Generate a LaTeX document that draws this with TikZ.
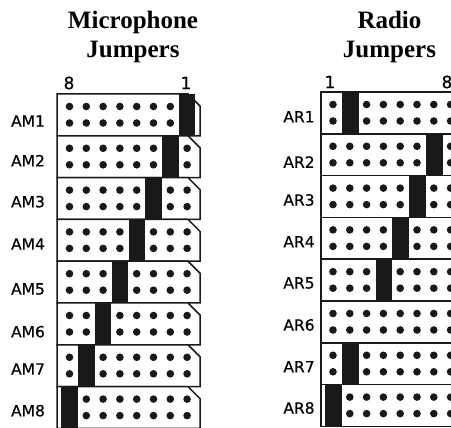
\documentclass[tikz,border=0pt]{standalone}
\usepackage{fontspec}
\setmainfont{Liberation Serif}
\newfontface\labelfont{DejaVu Sans}[FakeBold=0.5]
\tikzset{
  pin/.style = {
      circle,
      fill=black!90,
      minimum size=7.6pt,
      inner sep=0pt, outer sep=0pt,
    },
  jumper/.style = {
      fill=black!90,
      draw=none,
    },
  board/.style = {
      draw=black!90,
      line width=1.5pt,
      fill=white,
    },
  title/.style = {
      align=center,
      font=\fontsize{25}{29}\selectfont\bfseries,
      inner sep=0pt,
    },
  rowlabel/.style = {
      font=\fontsize{15.5}{16}\selectfont\labelfont,
      inner sep=0pt,
    },
  pinlabel/.style = {
      font=\fontsize{17}{18}\selectfont\labelfont,
      inner sep=0pt,
    },
}

\begin{document}
\begin{tikzpicture}[x=1pt, y=-1pt]
    \clip (0,0) rectangle (451,428);

    \node[title] (mictitle) at (133,37) {Microphone\\Jumpers};
    \node[title] (radiotitle) at (389.5,37) {Radio\\Jumpers};

    \node[pinlabel] (miceight) at (69,83) {8};
    \node[pinlabel] (micone) at (186,83) {1};
    \node[pinlabel] (radioone) at (330,82) {1};
    \node[pinlabel] (radioeight) at (447,82) {8};

    % microphone rows: number / jumper column / label height
    \foreach \r/\j/\ly in {1/7/121, 2/6/160.7, 3/5/201.7, 4/4/244, 5/3/289, 6/2/331.7, 7/1/369, 8/0/410.7} {
      \pgfmathsetmacro{\top}{94+41.8*(\r-1)}
      \node[rowlabel] (AM\r) at (28,\ly) {AM\r};
      \draw[board] (57,\top) -- (188,\top) -- (200,\top+12) -- (200,\top+41.8) -- (57,\top+41.8) -- cycle;
      \fill[jumper] (61.3+16.8*\j,\top) rectangle ++(16.5,41.8);
      \foreach \c in {0,...,7} {
        \ifnum\c=\j\else
          \node[pin] (mtop\r-\c) at (69.5+16.8*\c,\top+12.5) {};
          \node[pin] (mbot\r-\c) at (69.5+16.8*\c,\top+29) {};
        \fi
      }
    }

    % radio rows: -1 is a row with no jumper
    \foreach \r/\j/\ly in {1/1/116.7, 2/6/162, 3/5/200, 4/4/241.7, 5/3/283, 6/-1/325, 7/1/366.7, 8/0/408} {
      \pgfmathsetmacro{\top}{92+41.8*(\r-1)}
      \node[rowlabel] (AR\r) at (299,\ly) {AR\r};
      \draw[board] (321,\top) -- (470,\top) -- (470,\top+41.8) -- (321,\top+41.8) -- cycle;
      \ifnum\j<0\else
        \fill[jumper] (325.2+16.8*\j,\top) rectangle ++(16.5,41.8);
      \fi
      \foreach \c in {0,...,7} {
        \ifnum\c=\j\else
          \node[pin] (rtop\r-\c) at (333+16.8*\c,\top+12.5) {};
          \node[pin] (rbot\r-\c) at (333+16.8*\c,\top+29) {};
        \fi
      }
    }
\end{tikzpicture}
\end{document}
